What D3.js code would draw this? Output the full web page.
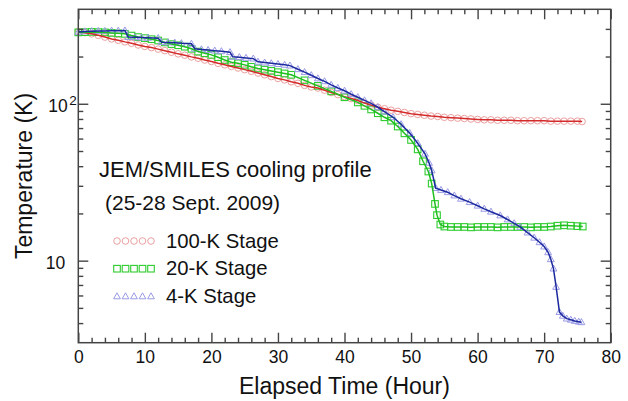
<!DOCTYPE html>
<html>
<head>
<meta charset="utf-8">
<script src="https://cdn.jsdelivr.net/npm/d3@7"></script>
<style>
  body { margin: 0; background: #fff; }
  svg { display: block; font-family: "Liberation Sans", Arial, sans-serif; }
  .axis path, .axis line { stroke: #444; stroke-width: 1.4; }
  .axis text { fill: #111; font-size: 17.5px; font-family: "Liberation Sans", Arial, sans-serif; }
</style>
</head>
<body>
<svg id="chart" width="628" height="401"></svg>
<script>
// 100-K stage
var hours100 = [0,1,2,3,4,5,6,7,8,9,10,11,12,13,14,15,16,17,18,19,20,21,22,23,24,25,26,27,28,29,30,
  31,32,33,34,35,36,37,38,39,40,41,42,43,44,45,46,47,48,49,50,51,52,53,54,55,56,57,58,59,60,
  61,62,63,64,65,66,67,68,69,70,71,72,73,74,75,75.7];
var temp100 = [289,284,279,273,266,259,254,248,243,237,232,228,223,218,213,208,204,199,195,190,186,
  181,177,173,169,165,161,157,153,149,145,142,138,135,131,128,126,122,118,114.5,111,108,105,101,98,
  95,93,91,89.5,88,86.5,85.5,84.5,83.5,83,82,81.5,81,80.5,80,79.5,79,79,78.5,78.5,78.5,78,78,78,78,
  78,77.5,77.5,77.5,77.5,77.5,77];

// 20-K stage
var hours20 = [0,1,2,3,4,5,6,7,8,9,10,11,12,13,14,15,16,17,18,19,20,21,22,23,24,25,26,27,28,29,30,
  31,32,34,36,38,40,42,43,44,45,46,47,48,49,50,51,51.8,52.6,53.1,53.6,53.9,54.4,55,56,57,58,59,60,
  61,62,63,64,65,66,67,68,69,70,71,72,73,74,75,75.8];
var temp20 = [285,286,287,286,285,283,281,279,272,266,262,258,253,246,240,236,231,224,215,210,205,
  198,190,184,181,177,172,168,165,162,159,156,153,141,130,120,110,102,97,92,87,82,78,71.6,64.8,58.8,
  51.2,43,37,31,23,19.5,17,16.5,16.4,16.4,16.4,16.3,16.4,16.4,16.4,16.3,16.4,16.4,16.4,16.4,16.3,
  16.4,16.4,16.5,16.7,16.8,16.7,16.6,16.5];

// 4-K stage
var hours4 = [0,1,2,3,4,5,6,7,7.5,8.5,9.5,10.5,12,12.5,13.5,14.5,15.5,17,17.5,18.5,19.5,20.5,21.5,
  22.8,23.2,24.2,25.2,26.3,27,28,29,30,31,31.8,33,34,35,36,37,38,39,40,41,42,43,44,45,46,47.3,48.5,
  49.8,51,52.1,52.7,53.1,53.7,54.5,55.5,56.5,57.5,58.8,60,61,62,63.4,64.5,65.5,66.4,67.5,68.5,69.3,
  70,70.6,71,71.4,71.8,72.3,72.8,73.4,74,74.6,75.2,75.6];
var temp4 = [287,289,290,291,291,292,292,293,266,265,264,263,262,247,246,245,243,241,224,222,220,
  218,216,213,199,198,196,194,185,183,181,179,177,175,166,159,152,145,139,132,126,121,115,110,105,
  100.6,95,89,82,74,65,56,48,42,37.6,29,28.2,27.3,26,24.8,23.6,22.4,21.4,20.5,19.4,18.3,17.3,16.4,
  15.1,14,13.1,12.3,11.3,10.2,8.9,6.8,4.7,4.45,4.27,4.2,4.13,4.08,4.05];

var legendLabels = ["100-K Stage", "20-K Stage", "4-K Stage"];
var xMajor = [0,10,20,30,40,50,60,70,80];
var xMinor = [2,4,6,8,12,14,16,18,22,24,26,28,32,34,36,38,42,44,46,48,52,54,56,58,62,64,66,68,72,74,76,78];
var yMajor = [10,100];
var yMinor = [4,5,6,7,8,9,20,30,40,50,60,70,80,90,200,300];

var svg = d3.select("#chart");
var plotL = 78.3, plotR = 610.7, plotT = 9.3, plotB = 342.7;

var x = d3.scaleLinear().domain([0, 80]).range([plotL, plotR]);
var y = d3.scaleLog().domain([3, 400]).range([plotB, plotT]);

function zip(h, t) { return h.map(function (d, i) { return [d, t[i]]; }); }

var series = [
  { data: zip(hours100, temp100), line: "#d42a2a", mark: "#eba0a0", shape: "circle" },
  { data: zip(hours20, temp20), line: "#1fbf1f", mark: "#2ecc2e", shape: "square" },
  { data: zip(hours4, temp4), line: "#1c2a9e", mark: "#9a9ae6", shape: "triangle" }
];

var line = d3.line().x(function (d) { return x(d[0]); }).y(function (d) { return y(d[1]); });

function marker(g, shape, color, cx, cy) {
  if (shape === "circle") {
    g.append("circle").attr("cx", cx).attr("cy", cy).attr("r", 3.3)
      .attr("fill", "none").attr("stroke", color).attr("stroke-width", 1);
  } else if (shape === "square") {
    g.append("rect").attr("x", cx - 3.3).attr("y", cy - 3.3).attr("width", 6.6).attr("height", 6.6)
      .attr("fill", "none").attr("stroke", color).attr("stroke-width", 1.1);
  } else {
    g.append("path").attr("d", "M" + cx + "," + (cy - 3.6) + "L" + (cx + 3.4) + "," + (cy + 2.4) + "L" + (cx - 3.4) + "," + (cy + 2.4) + "Z")
      .attr("fill", "none").attr("stroke", color).attr("stroke-width", 1);
  }
}

var plot = svg.append("g");
series.forEach(function (s) {
  var g = plot.append("g");
  s.data.forEach(function (d) { marker(g, s.shape, s.mark, x(d[0]), y(d[1])); });
});
series.forEach(function (s) {
  plot.append("path").datum(s.data).attr("d", line)
    .attr("fill", "none").attr("stroke", s.line).attr("stroke-width", 1.5);
});

// frame
svg.append("rect").attr("x", plotL).attr("y", plotT).attr("width", plotR - plotL).attr("height", plotB - plotT)
  .attr("fill", "none").attr("stroke", "#444").attr("stroke-width", 1.5);

function noDomain(g) { g.select(".domain").remove(); }

// x axes (ticks inward)
svg.append("g").attr("class", "axis").attr("transform", "translate(0," + plotB + ")")
  .call(d3.axisBottom(x).tickValues(xMajor).tickSize(-10).tickPadding(8).tickFormat(d3.format("d")))
  .call(noDomain);
svg.append("g").attr("class", "axis").attr("transform", "translate(0," + plotB + ")")
  .call(d3.axisBottom(x).tickValues(xMinor).tickSize(-5).tickFormat(""))
  .call(noDomain);
svg.append("g").attr("class", "axis").attr("transform", "translate(0," + plotT + ")")
  .call(d3.axisTop(x).tickValues(xMajor).tickSize(-10).tickFormat(""))
  .call(noDomain);
svg.append("g").attr("class", "axis").attr("transform", "translate(0," + plotT + ")")
  .call(d3.axisTop(x).tickValues(xMinor).tickSize(-5).tickFormat(""))
  .call(noDomain);

// y axes
var yl = svg.append("g").attr("class", "axis").attr("transform", "translate(" + plotL + ",0)")
  .call(d3.axisLeft(y).tickValues(yMajor).tickSize(-10).tickPadding(13).tickFormat(function () { return ""; }))
  .call(noDomain);
yl.selectAll(".tick text").each(function (d) {
  var t = d3.select(this).attr("dy", "0.45em");
  t.append("tspan").text("10");
  if (d === 100) {
    t.attr("x", -1.5);
    t.append("tspan").attr("dx", 1.5).attr("dy", "-0.55em").attr("font-size", "13.5px").text("2");
  }
});
svg.append("g").attr("class", "axis").attr("transform", "translate(" + plotL + ",0)")
  .call(d3.axisLeft(y).tickValues(yMinor).tickSize(-5).tickFormat(""))
  .call(noDomain);
svg.append("g").attr("class", "axis").attr("transform", "translate(" + plotR + ",0)")
  .call(d3.axisRight(y).tickValues(yMajor).tickSize(-10).tickFormat(""))
  .call(noDomain);
svg.append("g").attr("class", "axis").attr("transform", "translate(" + plotR + ",0)")
  .call(d3.axisRight(y).tickValues(yMinor).tickSize(-5).tickFormat(""))
  .call(noDomain);

// axis titles
svg.append("text").attr("x", (plotL + plotR) / 2).attr("y", 394).attr("text-anchor", "middle")
  .attr("font-size", "23px").attr("fill", "#111").text("Elapsed Time (Hour)");
svg.append("text").attr("transform", "translate(32," + (plotT + plotB) / 2 + ") rotate(-90)")
  .attr("text-anchor", "middle").attr("font-size", "23px").attr("fill", "#111").text("Temperature (K)");

// annotation
svg.append("text").attr("x", 99).attr("y", 176.5).attr("font-size", "22px").attr("fill", "#111")
  .text("JEM/SMILES cooling profile");
svg.append("text").attr("x", 105).attr("y", 210).attr("font-size", "21px").attr("fill", "#111")
  .text("(25-28 Sept. 2009)");

// legend
var legend = svg.append("g");
legendLabels.forEach(function (lab, i) {
  var base = 247.5 + i * 27.7;
  var s = series[i];
  d3.range(5).forEach(function (k) { marker(legend, s.shape, s.mark, 117 + k * 8.5, base - 6.5); });
  legend.append("text").attr("x", 166).attr("y", base).attr("font-size", "20.3px").attr("fill", "#111").text(lab);
});
</script>
</body>
</html>
